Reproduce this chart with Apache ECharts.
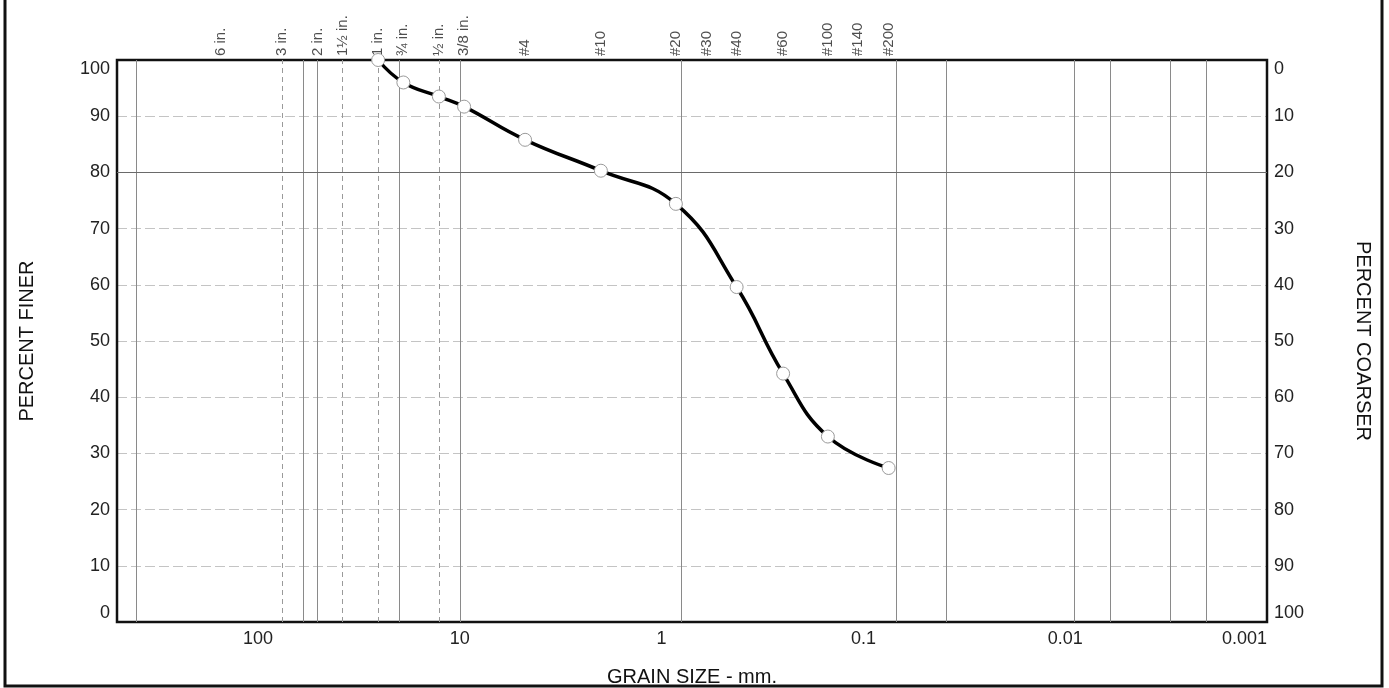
<!DOCTYPE html>
<html>
<head>
<meta charset="utf-8">
<script src="https://cdn.jsdelivr.net/npm/echarts@6/dist/echarts.min.js"></script>
<style>
  html, body { margin: 0; padding: 0; background: #fff; }
  #chart { width: 1389px; height: 688px; }
</style>
</head>
<body>
<div id="chart"></div>
<script>
// ---- Data ----
// Sieve sizes of the plotted test points (mm) and percent finer
const sieveSizes   = [25.4, 19.05, 12.7, 9.525, 4.75, 2.0, 0.85, 0.425, 0.25, 0.15, 0.075];
const percentFiner = [100, 96.0, 93.5, 91.7, 85.8, 80.3, 74.4, 59.6, 44.2, 33.0, 27.4];

// Sieve designation labels along the top (size in mm, text)
const sieveLabelSizes = [152.4, 76.2, 50.8, 38.1, 25.4, 19.05, 12.7, 9.525, 4.75, 2.0, 0.85, 0.6, 0.425, 0.25, 0.15, 0.106, 0.075];
const sieveLabelNames = ['6 in.', '3 in.', '2 in.', '1½ in.', '1 in.', '¾ in.', '½ in.', '3/8 in.', '#4', '#10', '#20', '#30', '#40', '#60', '#100', '#140', '#200'];

// Reference (vertical) lines in mm
const solidLines  = [400, 60, 50.8, 20, 10, 0.8, 0.069, 0.039, 0.009, 0.006, 0.003, 0.002];
const dashedLines = [76.2, 38.1, 25.4, 12.7];

// Axis tick labels
const xTickLabels = ['0.001', '0.01', '0.1', '1', '10', '100'];
const xMin = 0.001, xMax = 500;
const yTicks = [0, 10, 20, 30, 40, 50, 60, 70, 80, 90, 100];
const heavyGridLine = 80;

const FONT = "'Liberation Sans', Arial, Helvetica, sans-serif";

const chart = echarts.init(document.getElementById('chart'), null, { renderer: 'canvas' });

const markLineData = []
  .concat(solidLines.map(v => ({ xAxis: v, lineStyle: { color: '#8a8a8a', width: 1, type: 'solid' } })))
  .concat(dashedLines.map(v => ({ xAxis: v, lineStyle: { color: '#9a9a9a', width: 1, type: [5, 4] } })))
  .concat([{ yAxis: heavyGridLine, lineStyle: { color: '#6a6a6a', width: 1.2, type: 'solid' } }]);

const option = {
  animation: false,
  backgroundColor: '#fff',
  textStyle: { fontFamily: FONT },
  graphic: [{
    type: 'rect',
    shape: { x: 5, y: -10, width: 1377, height: 696 },
    style: { fill: 'none', stroke: '#111', lineWidth: 3 },
    silent: true,
    z: 100
  }],
  grid: {
    left: 117, right: 122, top: 60, bottom: 66,
    outerBoundsMode: 'none', containLabel: false,
    show: true, borderColor: '#111', borderWidth: 2.5, backgroundColor: 'transparent', z: 3
  },
  xAxis: {
    type: 'log', logBase: 10, inverse: true, min: xMin, max: xMax,
    axisLine: { show: false }, axisTick: { show: false },
    splitLine: { show: false }, minorTick: { show: false }, minorSplitLine: { show: false },
    axisLabel: {
      fontSize: 18, color: '#222', margin: 8, fontFamily: FONT,
      alignMinLabel: 'right',
      formatter: function (v) {
        const e = Math.log10(v);
        const r = Math.round(e);
        if (Math.abs(e - r) > 1e-6) return '';
        const idx = r + 3;
        return (idx >= 0 && idx < xTickLabels.length) ? xTickLabels[idx] : '';
      }
    },
    name: 'GRAIN SIZE - mm.', nameLocation: 'middle', nameGap: 45,
    nameTextStyle: { fontSize: 20, color: '#111', fontFamily: FONT }
  },
  yAxis: [{
    type: 'value', min: 0, max: 100, interval: 10, position: 'left',
    axisLine: { show: false }, axisTick: { show: false },
    axisLabel: {
      fontSize: 18, color: '#222', margin: 7, fontFamily: FONT,
      verticalAlignMinLabel: 'bottom', verticalAlignMaxLabel: 'top',
      formatter: v => (yTicks.indexOf(v) >= 0 ? String(v) : '')
    },
    splitLine: { show: true, showMinLine: false, showMaxLine: false, lineStyle: { color: '#c4c4c4', width: 1, type: [10, 4] } },
    name: 'PERCENT FINER', nameLocation: 'middle', nameGap: 80, nameRotate: 90,
    nameTextStyle: { fontSize: 20, color: '#111', fontFamily: FONT }
  }, {
    type: 'value', min: 0, max: 100, interval: 10, position: 'right', inverse: true,
    axisLine: { show: false }, axisTick: { show: false },
    axisLabel: {
      fontSize: 18, color: '#222', margin: 7, fontFamily: FONT,
      verticalAlignMinLabel: 'top', verticalAlignMaxLabel: 'bottom',
      formatter: v => (yTicks.indexOf(v) >= 0 ? String(v) : '')
    },
    splitLine: { show: false },
    name: 'PERCENT COARSER', nameLocation: 'middle', nameGap: 86, nameRotate: -90,
    nameTextStyle: { fontSize: 20, color: '#111', fontFamily: FONT }
  }],
  series: [{
    // reference lines
    type: 'line', data: [], z: 1, silent: true,
    markLine: {
      silent: true, symbol: 'none', precision: 8, label: { show: false },
      animation: false, data: markLineData
    }
  }, {
    // sieve designations along the top edge
    type: 'scatter', z: 4, silent: true, clip: false,
    symbolSize: 0,
    data: sieveLabelSizes.map(s => [s, 100]),
    label: {
      show: true, position: 'top', distance: 4, rotate: 90,
      align: 'left', verticalAlign: 'middle',
      fontSize: 15, color: '#222', fontFamily: FONT,
      formatter: p => sieveLabelNames[p.dataIndex]
    }
  }, {
    // gradation curve
    type: 'line', z: 5, clip: false,
    data: sieveSizes.map((s, i) => [s, percentFiner[i]]),
    smooth: 0.45,
    showAllSymbol: true,
    symbol: 'circle', symbolSize: 13,
    lineStyle: { color: '#000', width: 3.5 },
    itemStyle: { color: '#fff', borderColor: '#9a9a9a', borderWidth: 1 }
  }]
};

chart.setOption(option);
</script>
</body>
</html>
